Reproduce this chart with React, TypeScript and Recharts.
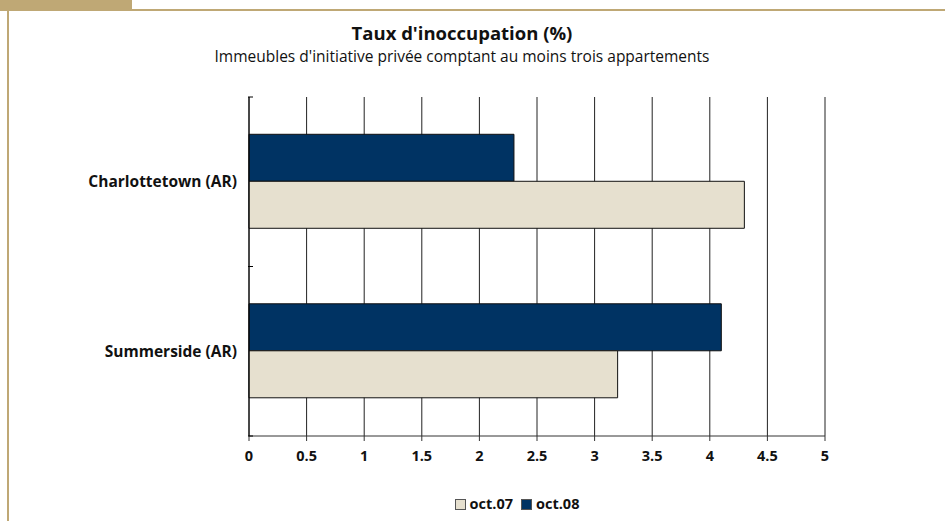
import { Bar, BarChart, CartesianGrid, XAxis, YAxis } from "recharts";

const villes = ["Charlottetown (AR)", "Summerside (AR)"];
const oct07 = [4.3, 3.2];
const oct08 = [2.3, 4.1];
const ticksX = [0, 0.5, 1, 1.5, 2, 2.5, 3, 3.5, 4, 4.5, 5];
const seriesLabels = ["oct.07", "oct.08"];

const data = villes.map((ville, i) => ({ ville, oct07: oct07[i], oct08: oct08[i] }));

const FONT = "'Open Sans', 'DejaVu Sans', sans-serif";
const GOLD = "#bfa875";
const NAVY = "#003363";
const BEIGE = "#e6e0cf";

function VilleTick(props: any) {
  const { x, y, payload } = props;
  const half = payload.offset || 0;
  return (
    <g>
      <line x1={x + 7} x2={x + 12} y1={y - half} y2={y - half} stroke="#000" />
      <line x1={x + 7} x2={x + 12} y1={y + half} y2={y + half} stroke="#000" />
      <text x={x - 4} y={y} dy="0.35em" textAnchor="end" fontFamily={FONT} fontWeight="bold" fontSize={15.5} fill="#111">
        {payload.value}
      </text>
    </g>
  );
}

export default function App() {
  return (
    <div style={{ position: "absolute", left: 0, top: 0, width: 945, height: 521, background: "#fff", fontFamily: FONT }}>
      <div style={{ position: "absolute", left: 0, top: 0, width: 132, height: 11, background: GOLD }} />
      <div style={{ position: "absolute", left: 132, top: 9, width: 813, height: 2, background: GOLD }} />
      <div style={{ position: "absolute", left: 7, top: 11, width: 2, height: 510, background: GOLD }} />
      <div style={{ position: "absolute", left: 0, top: 20, width: 924, textAlign: "center", fontWeight: "bold", fontSize: 18.5, lineHeight: "25px", color: "#111" }}>
        Taux d'inoccupation (%)
      </div>
      <div style={{ position: "absolute", left: 0, top: 46, width: 924, textAlign: "center", fontSize: 15.5, lineHeight: "21px", color: "#111" }}>
        Immeubles d'initiative privée comptant au moins trois appartements
      </div>
      <BarChart
        width={945}
        height={521}
        data={data}
        layout="vertical"
        margin={{ top: 97, right: 120, bottom: 55, left: 0 }}
        barCategoryGap="22%"
        barGap={0}
      >
        <CartesianGrid horizontal={false} stroke="#222" />
        <XAxis
          type="number"
          domain={[0, 5]}
          ticks={ticksX}
          interval={0}
          height={30}
          tickSize={5}
          tickMargin={10}
          stroke="#333"
          tick={{ fill: "#111", fontSize: 14.5, fontWeight: "bold", fontFamily: FONT }}
        />
        <XAxis xAxisId="top" type="number" orientation="top" domain={[0, 5]} height={0} tick={false} tickLine={false} stroke="#888" />
        <YAxis type="category" dataKey="ville" width={249} tickLine={false} stroke="#000" tick={<VilleTick />} />
        <Bar dataKey="oct08" name={seriesLabels[1]} fill={NAVY} stroke="#111" strokeWidth={1} isAnimationActive={false} />
        <Bar dataKey="oct07" name={seriesLabels[0]} fill={BEIGE} stroke="#111" strokeWidth={1} isAnimationActive={false} />
      </BarChart>
      <div style={{ position: "absolute", top: 494, left: 0, width: 1034, display: "flex", justifyContent: "center", gap: 8, fontSize: 14.5, lineHeight: "20px", fontWeight: "bold", color: "#111" }}>
        {seriesLabels.map((label, i) => (
          <span key={label} style={{ display: "flex", alignItems: "center", gap: 4 }}>
            <span style={{ width: 9, height: 9, border: "1px solid #555", background: i === 0 ? BEIGE : NAVY }} />
            {label}
          </span>
        ))}
      </div>
    </div>
  );
}
